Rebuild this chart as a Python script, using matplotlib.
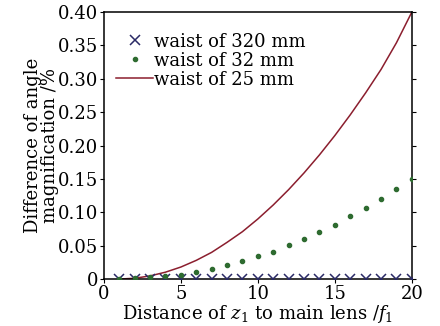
import numpy as np
import matplotlib
matplotlib.use("Agg")
import matplotlib.pyplot as plt

# Datos
dist = np.arange(1, 21)
waist_320 = [0.0] * 20
waist_32 = [0.0003, 0.0012, 0.0025, 0.0045, 0.0065, 0.0105, 0.015, 0.0205,
            0.0265, 0.034, 0.041, 0.0505, 0.0595, 0.070, 0.0814, 0.094,
            0.107, 0.120, 0.135, 0.150]
waist_25 = [0.0, 0.0012, 0.0047, 0.0103, 0.018, 0.028, 0.040, 0.055, 0.071,
            0.090, 0.111, 0.134, 0.159, 0.186, 0.215, 0.246, 0.279, 0.314,
            0.354, 0.400]

plt.rcParams['font.family'] = ['DejaVu Serif']
plt.rcParams['mathtext.fontset'] = 'dejavuserif'

fig = plt.figure(figsize=(4.4, 3.26), dpi=100)
ax = fig.add_axes([0.236, 0.144, 0.700, 0.819])

ax.plot(dist, waist_320, 'x', color='#2a2a66', markersize=7, mew=1.1,
        label='waist of 320 mm', zorder=3)
ax.plot(dist, waist_32, 'o', color='#2e6b30', markersize=3,
        label='waist of 32 mm', zorder=3)
ax.plot(dist, waist_25, '-', color='#8b1e2e', lw=1.1,
        label='waist of 25 mm', zorder=2)

ax.set_xlim(0, 20)
ax.set_ylim(0, 0.40)
ax.set_xticks([0, 5, 10, 15, 20])
ax.set_xticklabels(['0', '5', '10', '15', '20'])
ax.set_yticks(np.arange(0, 0.41, 0.05))
ax.set_yticklabels(['0'] + [f'{v:.2f}' for v in np.arange(0.05, 0.41, 0.05)])
ax.tick_params(labelsize=13, direction='out', length=3, pad=1)
ax.tick_params(axis='y', right=True)
for s in ax.spines.values():
    s.set_linewidth(1.1)
ax.set_xlabel(r'Distance of $z_1$ to main lens /$f_1$', fontsize=13, labelpad=0)
ax.set_ylabel('Difference of angle\nmagnification /%', fontsize=13,
              labelpad=-1, linespacing=0.95)

ax.legend(loc='upper left', bbox_to_anchor=(0.0, 0.97), frameon=False,
          fontsize=13, handlelength=2.0, handletextpad=0.1,
          labelspacing=0.05, borderaxespad=0.3)

fig.savefig('out.png', dpi=100)
